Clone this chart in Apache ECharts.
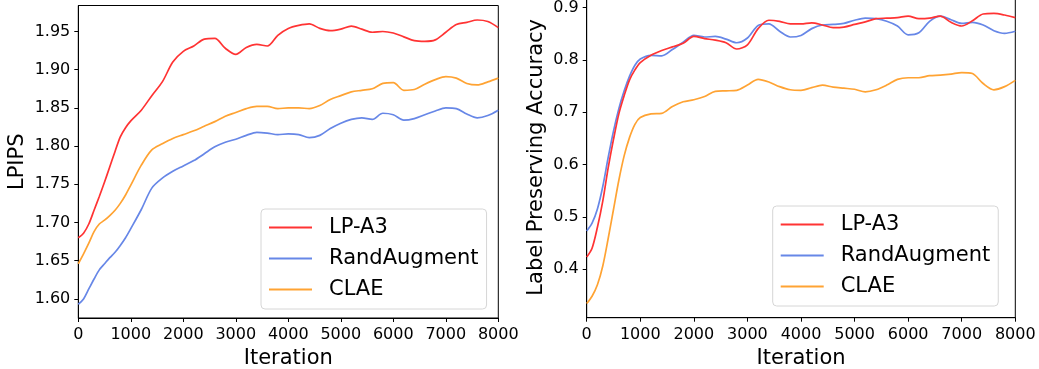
<!DOCTYPE html>
<html>
<head>
<meta charset="utf-8">
<script src="https://cdn.jsdelivr.net/npm/echarts@6/dist/echarts.min.js"></script>
<style>
  html, body { margin: 0; padding: 0; background: #fff; }
  #chart { width: 1039px; height: 369px; }
</style>
</head>
<body>
<div id="chart"></div>
<script>
// sample points on the x axis, shared by all six curves
const iterations = [0, 100, 200, 300, 400, 500, 600, 700, 800, 900, 1000,
  1200, 1400, 1600, 1800, 2000, 2200, 2400, 2600, 2800, 3000, 3200, 3400, 3600, 3800,
  4000, 4200, 4400, 4600, 4800, 5000, 5200, 5400, 5600, 5800, 6000, 6200, 6400, 6600,
  6800, 7000, 7200, 7400, 7600, 7800, 8000];

const seriesNames = ["LP-A3", "RandAugment", "CLAE"];

// left panel: LPIPS
const lpipsLPA3 = [1.680, 1.686, 1.698, 1.716, 1.734, 1.753, 1.773, 1.793, 1.812, 1.824, 1.833,
  1.847, 1.866, 1.884, 1.910, 1.924, 1.931, 1.940, 1.941, 1.928, 1.920, 1.929, 1.933, 1.931, 1.945,
  1.954, 1.958, 1.960, 1.954, 1.951, 1.953, 1.957, 1.953, 1.949, 1.950, 1.948, 1.943, 1.938, 1.937,
  1.939, 1.949, 1.959, 1.962, 1.965, 1.963, 1.955];
const lpipsRand = [1.593, 1.600, 1.613, 1.626, 1.638, 1.646, 1.654, 1.661, 1.670, 1.680, 1.692,
  1.717, 1.745, 1.758, 1.767, 1.774, 1.781, 1.790, 1.799, 1.805, 1.809, 1.814, 1.818, 1.817, 1.815,
  1.816, 1.815, 1.811, 1.814, 1.823, 1.830, 1.835, 1.837, 1.835, 1.843, 1.841, 1.834, 1.836, 1.841,
  1.846, 1.850, 1.849, 1.842, 1.837, 1.840, 1.847];
const lpipsCLAE = [1.646, 1.659, 1.673, 1.688, 1.698, 1.703, 1.709, 1.716, 1.725, 1.736, 1.749,
  1.775, 1.795, 1.803, 1.810, 1.815, 1.820, 1.826, 1.832, 1.839, 1.844, 1.849, 1.852, 1.852, 1.849,
  1.850, 1.850, 1.849, 1.853, 1.861, 1.866, 1.871, 1.873, 1.875, 1.882, 1.883, 1.873, 1.874, 1.881,
  1.887, 1.891, 1.889, 1.882, 1.880, 1.884, 1.889];

// right panel: label preserving accuracy
const accLPA3 = [0.423, 0.440, 0.480, 0.530, 0.593, 0.648, 0.697, 0.732, 0.762, 0.781, 0.795,
  0.809, 0.818, 0.825, 0.832, 0.845, 0.841, 0.838, 0.833, 0.821, 0.829, 0.860, 0.876, 0.874, 0.869,
  0.869, 0.871, 0.867, 0.862, 0.863, 0.868, 0.873, 0.879, 0.880, 0.881, 0.884, 0.879, 0.880, 0.884,
  0.872, 0.865, 0.875, 0.888, 0.889, 0.886, 0.881];
const accRand = [0.473, 0.488, 0.515, 0.558, 0.613, 0.664, 0.707, 0.741, 0.769, 0.790, 0.802,
  0.809, 0.808, 0.820, 0.834, 0.847, 0.844, 0.845, 0.840, 0.833, 0.842, 0.866, 0.869, 0.855, 0.844,
  0.847, 0.860, 0.867, 0.868, 0.870, 0.876, 0.880, 0.879, 0.874, 0.865, 0.848, 0.852, 0.874, 0.884,
  0.877, 0.870, 0.872, 0.867, 0.856, 0.851, 0.855];
const accCLAE = [0.334, 0.348, 0.370, 0.406, 0.458, 0.514, 0.570, 0.617, 0.652, 0.677, 0.690,
  0.697, 0.698, 0.711, 0.720, 0.724, 0.730, 0.740, 0.741, 0.742, 0.752, 0.763, 0.758, 0.749, 0.743,
  0.742, 0.747, 0.752, 0.748, 0.746, 0.744, 0.739, 0.743, 0.752, 0.763, 0.766, 0.766, 0.770, 0.771,
  0.773, 0.776, 0.774, 0.755, 0.743, 0.749, 0.761];

const lpipsTicks = [1.60, 1.65, 1.70, 1.75, 1.80, 1.85, 1.90, 1.95];
const accTicks = [0.4, 0.5, 0.6, 0.7, 0.8, 0.9];

const colors = ["#ff3333", "#6787e7", "#ffa333"];
const font = "DejaVu Sans";

function pairs(ys) {
  return iterations.map((x, i) => [x, ys[i]]);
}

function xAxisFor(gridIndex) {
  return {
    type: "value",
    gridIndex: gridIndex,
    min: 0,
    max: 8000,
    interval: 1000,
    name: "Iteration",
    nameLocation: "middle",
    nameGap: 29,
    nameTextStyle: { fontFamily: font, fontSize: 21, color: "#000" },
    axisLine: { onZero: false, lineStyle: { color: "#000", width: 1 } },
    axisTick: { length: 4, lineStyle: { color: "#000" } },
    axisLabel: {
      fontFamily: font, fontSize: 16, color: "#000", margin: 9,
      formatter: (v) => String(v),
    },
    splitLine: { show: false },
  };
}

function legendAt(left, top) {
  return {
    left: left,
    top: top,
    orient: "vertical",
    data: seriesNames,
    icon: "rect",
    itemWidth: 43,
    itemHeight: 2,
    itemGap: 10,
    padding: [8, 8, 9, 8],
    backgroundColor: "#fff",
    borderColor: "#d6d6d6",
    borderWidth: 1,
    borderRadius: 4,
    selectedMode: false,
    textStyle: {
      fontFamily: font,
      fontSize: 21,
      lineHeight: 21,
      color: "#000",
      padding: [0, 0, 0, 12],
    },
  };
}

const chart = echarts.init(document.getElementById("chart"), null, { renderer: "canvas" });

const lpipsData = [lpipsLPA3, lpipsRand, lpipsCLAE];
const accData = [accLPA3, accRand, accCLAE];

const series = [];
[lpipsData, accData].forEach(function (group, g) {
  group.forEach(function (ys, i) {
    series.push({
      name: seriesNames[i],
      type: "line",
      xAxisIndex: g,
      yAxisIndex: g,
      data: pairs(ys),
      smooth: 0.3,
      showSymbol: false,
      lineStyle: { color: colors[i], width: 1.7 },
      itemStyle: { color: colors[i] },
      z: 3 - i,
    });
  });
});

const option = {
  animation: false,
  color: colors,
  grid: [
    {
      left: 78.3, right: 540.7, top: 5.5, bottom: 51,
      outerBoundsMode: "none",
      show: true, borderColor: "#000", borderWidth: 1,
    },
    {
      left: 586.7, right: 23.7, top: -3, bottom: 51.3,
      outerBoundsMode: "none",
      show: true, borderColor: "#000", borderWidth: 1,
    },
  ],
  legend: [legendAt(261, 209), legendAt(772.7, 206)],
  xAxis: [xAxisFor(0), xAxisFor(1)],
  yAxis: [
    {
      type: "value",
      gridIndex: 0,
      min: 1.575,
      max: 1.984,
      name: "LPIPS",
      nameLocation: "middle",
      nameGap: 50,
      nameTextStyle: { fontFamily: font, fontSize: 21, color: "#000" },
      axisLine: { show: true, lineStyle: { color: "#000", width: 1 } },
      axisTick: { show: true, length: 4, customValues: lpipsTicks, lineStyle: { color: "#000" } },
      axisLabel: {
        fontFamily: font, fontSize: 16, color: "#000", margin: 8,
        customValues: lpipsTicks,
        formatter: (v) => v.toFixed(2),
      },
      splitLine: { show: false },
    },
    {
      type: "value",
      gridIndex: 1,
      min: 0.307,
      max: 0.9205,
      name: "Label Preserving Accuracy",
      nameLocation: "middle",
      nameGap: 40,
      nameTextStyle: { fontFamily: font, fontSize: 21, color: "#000" },
      axisLine: { show: true, lineStyle: { color: "#000", width: 1 } },
      axisTick: { show: true, length: 4, customValues: accTicks, lineStyle: { color: "#000" } },
      axisLabel: {
        fontFamily: font, fontSize: 16, color: "#000", margin: 8,
        customValues: accTicks,
        formatter: (v) => v.toFixed(1),
      },
      splitLine: { show: false },
    },
  ],
  series: series,
};

chart.setOption(option);
</script>
</body>
</html>
